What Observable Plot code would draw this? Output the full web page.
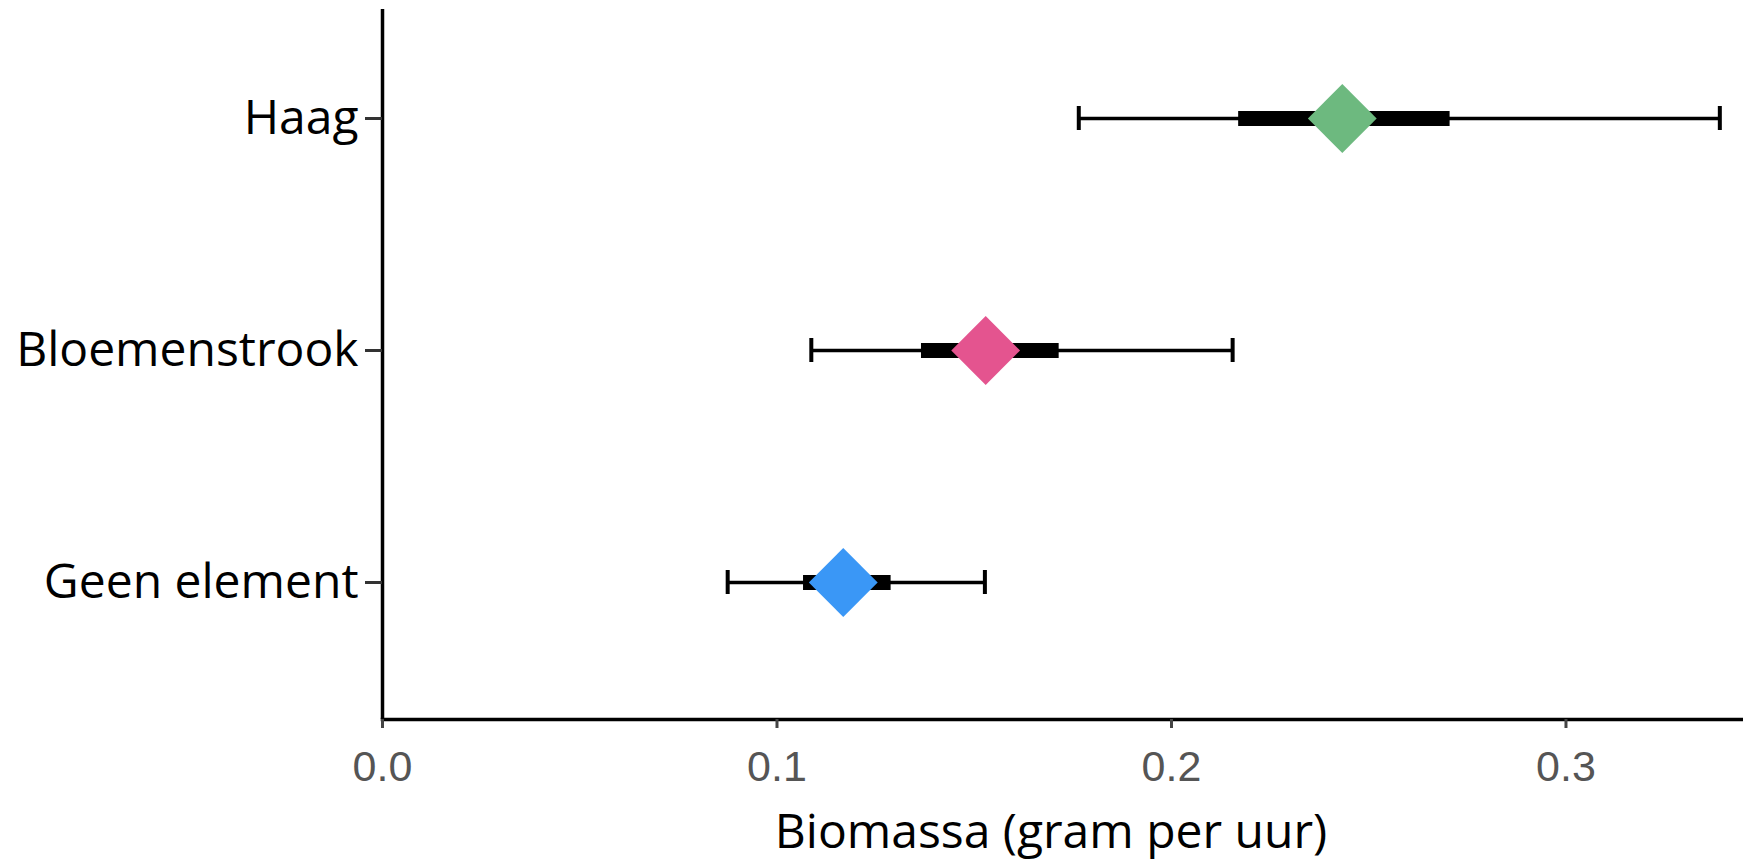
<!DOCTYPE html>
<html>
<head>
<meta charset="utf-8">
<script src="https://cdn.jsdelivr.net/npm/d3@7"></script>
<script src="https://cdn.jsdelivr.net/npm/@observablehq/plot@0.6"></script>
<style>
  html, body { margin: 0; padding: 0; background: #fff; }
  #chart svg { display: block; overflow: visible; }
</style>
</head>
<body>
<div id="chart"></div>
<script>
// Data
const categories = ["Haag", "Bloemenstrook", "Geen element"];
const means      = [0.2433, 0.1529, 0.1168];
const ciLow      = [0.1765, 0.1087, 0.0875];   // thin whisker start
const ciHigh     = [0.3390, 0.2155, 0.1527];   // thin whisker end
const iqLow      = [0.2169, 0.1365, 0.1066];   // thick bar start
const iqHigh     = [0.2705, 0.1714, 0.1288];   // thick bar end
const colors     = ["#6db97f", "#e4548f", "#3a97f6"];
const xTicks     = [0, 0.1, 0.2, 0.3];
const xLabel     = "Biomassa (gram per uur)";

const data = categories.map((c, i) => ({
  cat: c, mean: means[i], lo: ciLow[i], hi: ciHigh[i],
  qlo: iqLow[i], qhi: iqHigh[i], color: colors[i]
}));

const chart = Plot.plot({
  width: 1743,
  height: 859,
  marginLeft: 382,
  marginRight: 0,
  marginTop: 9,
  marginBottom: 140,
  x: { domain: [0, 0.345] },
  y: { type: "point", domain: categories, range: [118, 582], padding: 0 },
  marks: [
    // axis lines
    Plot.ruleX([0], { stroke: "#000", strokeWidth: 3.5 }),
    Plot.frame({ anchor: "bottom", stroke: "#000", strokeWidth: 3.5 }),
    // axes
    Plot.axisX({
      ticks: xTicks, tickFormat: d3.format(".1f"), tickSize: 9, tickPadding: 22,
      stroke: "#444", strokeWidth: 3, fill: "#555",
      fontSize: 43, fontFamily: "Liberation Sans, Arial, sans-serif", label: null
    }),
    Plot.axisY({
      tickSize: 17, tickPadding: 7, stroke: "#333", strokeWidth: 3, fill: "#000",
      fontSize: 48, fontFamily: "Open Sans, sans-serif", label: null
    }),
    Plot.text([xLabel], {
      frameAnchor: "bottom", dy: 128, dx: -12, lineAnchor: "bottom",
      fontSize: 48, fontFamily: "Open Sans, sans-serif", fill: "#000"
    }),
    // thin whisker
    Plot.link(data, { x1: "lo", x2: "hi", y1: "cat", y2: "cat", stroke: "#000", strokeWidth: 3.5 }),
    // thick bar
    Plot.link(data, { x1: "qlo", x2: "qhi", y1: "cat", y2: "cat", stroke: "#000", strokeWidth: 15 }),
    // caps
    Plot.ruleX(data, { x: "lo", y1: "cat", y2: "cat", insetTop: -12, insetBottom: -12, stroke: "#000", strokeWidth: 4 }),
    Plot.ruleX(data, { x: "hi", y1: "cat", y2: "cat", insetTop: -12, insetBottom: -12, stroke: "#000", strokeWidth: 4 }),
    // mean diamonds
    Plot.dot(data, { x: "mean", y: "cat", symbol: "diamond2", r: 31, fill: d => d.color, stroke: null })
  ]
});

document.getElementById("chart").appendChild(chart);
</script>
</body>
</html>
